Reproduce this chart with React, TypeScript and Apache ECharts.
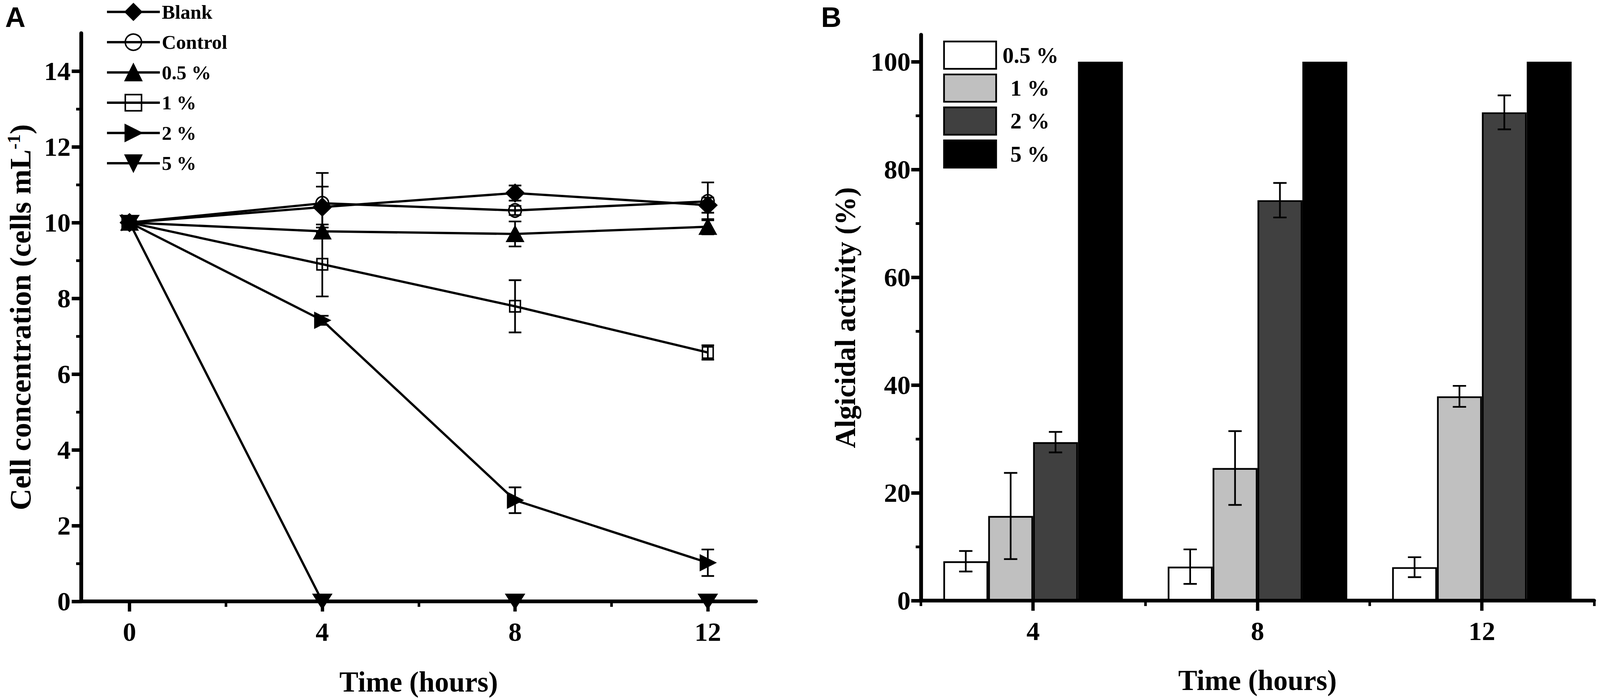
import React, { useEffect, useRef, useState } from "react";
import * as echarts from "echarts";

// ---------- Panel A data ----------
const HOURS = [0, 4, 8, 12];
const BLANK = [10, 10.41, 10.78, 10.46];
const BLANK_ERR = [0, 0.54, 0.2, 0.2];
const CONTROL = [10, 10.51, 10.32, 10.56];
const CONTROL_ERR = [0, 0.8, 0.12, 0.5];
const P05 = [10, 9.77, 9.7, 9.89];
const P05_ERR = [0, 0.18, 0.33, 0.2];
const P1 = [10, 8.9, 7.79, 6.57];
const P1_ERR = [0, 0.85, 0.69, 0.19];
const P2 = [10, 7.42, 2.67, 1.02];
const P2_ERR = [0, 0.12, 0.34, 0.35];
const P5 = [10, 0, 0, 0];
const P5_ERR = [0, 0, 0, 0];
const A_NAMES = ["Blank", "Control", "0.5 %", "1 %", "2 %", "5 %"];
const A_X_MAJOR = [0, 4, 8, 12];
const A_X_MINOR = [2, 6, 10];
const A_Y_MAJOR = [0, 2, 4, 6, 8, 10, 12, 14];
const A_Y_MINOR = [1, 3, 5, 7, 9, 11, 13];

// ---------- Panel B data ----------
const B_CATS = ["4", "8", "12"];
const B_NAMES = ["0.5 %", "1 %", "2 %", "5 %"];
const ACT_05 = [7.3, 6.3, 6.2];
const ERR_05 = [1.9, 3.2, 1.85];
const ACT_1 = [15.7, 24.6, 37.9];
const ERR_1 = [8.0, 6.85, 1.95];
const ACT_2 = [29.4, 74.3, 90.6];
const ERR_2 = [1.9, 3.2, 3.15];
const ACT_5 = [100, 100, 100];
const ERR_5 = [0, 0, 0];
const B_Y_MAJOR = [0, 20, 40, 60, 80, 100];
const B_Y_MINOR = [10, 30, 50, 70, 90];

const SERIF = "Liberation Serif";
const SANS = "Liberation Sans";
const REF_W = 4328;
const REF_H = 1790;

export default function App() {
  const ref = useRef<HTMLDivElement>(null);
  const [size] = useState(() => ({ w: window.innerWidth, h: window.innerHeight }));

  useEffect(() => {
    document.body.style.margin = "0";
    document.body.style.overflow = "hidden";
    if (!ref.current) return;
    const chart = echarts.init(ref.current, undefined, { renderer: "svg" });
    const sx = size.w / REF_W;
    const sy = size.h / REF_H;
    const sf = Math.sqrt(sx * sy);
    const kx = (v: number) => v * sx;
    const ky = (v: number) => v * sy;
    const kf = (v: number) => v * sf;

    const axisLineStyle = { color: "#000", width: kf(10) };
    const tickLabel = { fontFamily: SERIF, fontSize: kf(70), fontWeight: "bold" as const, color: "#000" };
    const titleStyle = { fontFamily: SERIF, fontSize: kf(75), fontWeight: "bold" as const, color: "#000" };

    const lineVals = [BLANK, CONTROL, P05, P1, P2, P5];
    const lineErrs = [BLANK_ERR, CONTROL_ERR, P05_ERR, P1_ERR, P2_ERR, P5_ERR];
    const symbols: any[] = [
      { symbol: "diamond", size: [48, 44], rot: 0, fill: "#000" },
      { symbol: "circle", size: [34, 34], rot: 0, fill: "none" },
      { symbol: "triangle", size: [44, 38], rot: 0, fill: "#000" },
      { symbol: "rect", size: [29, 29], rot: 0, fill: "none" },
      { symbol: "triangle", size: [38, 40], rot: -90, fill: "#000" },
      { symbol: "triangle", size: [48, 36], rot: 180, fill: "#000" },
    ];

    const symSize = (sz: number[], rot: number) =>
      Math.abs(rot) === 90 ? [ky(sz[0]), kx(sz[1])] : [kx(sz[0]), ky(sz[1])];

    const lineSeries = A_NAMES.map((name, i) => ({
      name,
      type: "line",
      xAxisIndex: 0,
      yAxisIndex: 0,
      data: HOURS.map((h, j) => [h, lineVals[i][j]]),
      symbol: symbols[i].symbol,
      symbolSize: symSize(symbols[i].size, symbols[i].rot),
      symbolRotate: symbols[i].rot,
      showAllSymbol: true,
      clip: false,
      z: 5,
      lineStyle: { color: "#000", width: kf(6) },
      itemStyle: { color: symbols[i].fill, borderColor: "#000", borderWidth: kf(4) },
    }));

    const aErrData: number[][] = [];
    A_NAMES.forEach((_, i) => {
      HOURS.forEach((h, j) => {
        if (lineErrs[i][j] > 0) aErrData.push([h, lineVals[i][j], lineErrs[i][j]]);
      });
    });

    const aErrSeries = {
      name: "_errA",
      type: "custom",
      xAxisIndex: 0,
      yAxisIndex: 0,
      z: 4,
      clip: false,
      data: aErrData,
      renderItem: (params: any, api: any) => {
        const x = api.value(0);
        const y = api.value(1);
        const e = api.value(2);
        const p1 = api.coord([x, y + e]);
        const p2 = api.coord([x, y - e]);
        const hw = kx(17);
        const st = { stroke: "#000", lineWidth: kf(4.5) };
        return {
          type: "group",
          children: [
            { type: "line", shape: { x1: p1[0], y1: p1[1], x2: p2[0], y2: p2[1] }, style: st },
            { type: "line", shape: { x1: p1[0] - hw, y1: p1[1], x2: p1[0] + hw, y2: p1[1] }, style: st },
            { type: "line", shape: { x1: p2[0] - hw, y1: p2[1], x2: p2[0] + hw, y2: p2[1] }, style: st },
          ],
        };
      },
    };

    const barVals = [ACT_05, ACT_1, ACT_2, ACT_5];
    const barErrs = [ERR_05, ERR_1, ERR_2, ERR_5];
    const barColors = ["#ffffff", "#c0c0c0", "#404040", "#000000"];

    const barSeries = B_NAMES.map((name, i) => ({
      name: "B " + name,
      type: "bar",
      xAxisIndex: 2,
      yAxisIndex: 2,
      data: barVals[i],
      barGap: "0%",
      barCategoryGap: "20%",
      z: 3,
      itemStyle: { color: barColors[i], borderColor: "#000", borderWidth: kf(4.5) },
    }));

    const bErrData: number[][] = [];
    B_NAMES.forEach((_, i) => {
      B_CATS.forEach((_c, j) => {
        if (barErrs[i][j] > 0) bErrData.push([j, barVals[i][j], barErrs[i][j], i]);
      });
    });

    const bErrSeries = {
      name: "_errB",
      type: "custom",
      xAxisIndex: 2,
      yAxisIndex: 2,
      z: 6,
      data: bErrData,
      renderItem: (params: any, api: any) => {
        const c = api.value(0);
        const v = api.value(1);
        const e = api.value(2);
        const si = api.value(3);
        const band = api.size([1, 0])[0];
        const bw = (band * 0.8) / 4;
        const cx = api.coord([c, v])[0] + (si - 1.5) * bw;
        const yt = api.coord([c, v + e])[1];
        const yb = api.coord([c, v - e])[1];
        const hw = kx(18);
        const st = { stroke: "#000", lineWidth: kf(4.5) };
        return {
          type: "group",
          children: [
            { type: "line", shape: { x1: cx, y1: yt, x2: cx, y2: yb }, style: st },
            { type: "line", shape: { x1: cx - hw, y1: yt, x2: cx + hw, y2: yt }, style: st },
            { type: "line", shape: { x1: cx - hw, y1: yb, x2: cx + hw, y2: yb }, style: st },
          ],
        };
      },
    };

    const bLegendPad = [12, 33, 33, 33];

    const xMajorTick = (vals: number[] | null) => ({
      show: true,
      inside: false,
      length: ky(26),
      lineStyle: { color: "#000", width: kx(9) },
      ...(vals ? { customValues: vals } : {}),
    });
    const xMinorTick = (vals: number[] | null) => ({
      show: true,
      inside: false,
      length: ky(14),
      lineStyle: { color: "#000", width: kx(7) },
      ...(vals ? { customValues: vals } : {}),
    });
    const yMajorTick = (vals: number[]) => ({
      show: true,
      inside: false,
      length: kx(26),
      lineStyle: { color: "#000", width: ky(9) },
      customValues: vals,
    });
    const yMinorTick = (vals: number[]) => ({
      show: true,
      inside: false,
      length: kx(14),
      lineStyle: { color: "#000", width: ky(7) },
      customValues: vals,
    });

    const option: any = {
      animation: false,
      backgroundColor: "#fff",
      grid: [
        { left: kx(220), top: ky(85), width: kx(1825), height: ky(1455) },
        { left: kx(2491), top: ky(89), width: kx(1821), height: ky(1449) },
      ],
      graphic: [
        { type: "text", left: kx(14), top: ky(8), style: { text: "A", font: `bold ${kf(74)}px "${SANS}"`, fill: "#000" } },
        { type: "text", left: kx(2221), top: ky(8), style: { text: "B", font: `bold ${kf(74)}px "${SANS}"`, fill: "#000" } },
      ],
      legend: [
        {
          left: kx(281),
          top: ky(0),
          orient: "vertical",
          itemWidth: kx(143),
          itemHeight: ky(52),
          itemGap: ky(26.5),
          data: A_NAMES,
          selectedMode: false,
          textStyle: { fontFamily: SERIF, fontSize: kf(52), fontWeight: "bold", color: "#000" },
          itemStyle: { borderColor: "#000", borderWidth: kf(4) },
          lineStyle: { color: "#000", width: kf(6) },
        },
        {
          left: kx(2546),
          top: ky(99),
          orient: "vertical",
          itemWidth: kx(141),
          itemHeight: ky(70),
          itemGap: ky(10),
          icon: "rect",
          selectedMode: false,
          data: B_NAMES.map((n, i) => ({ name: "B " + n, textStyle: { padding: [0, 0, 0, kx(bLegendPad[i])] } })),
          formatter: (n: string) => n.slice(2),
          textStyle: { fontFamily: SERIF, fontSize: kf(59), fontWeight: "bold", color: "#000" },
          itemStyle: { borderColor: "#000", borderWidth: kf(4.5) },
        },
      ],
      xAxis: [
        {
          type: "value",
          gridIndex: 0,
          min: -1,
          max: 13,
          position: "bottom",
          name: "Time (hours)",
          nameLocation: "middle",
          nameGap: ky(170),
          nameTextStyle: titleStyle,
          axisLine: { show: true, onZero: false, lineStyle: axisLineStyle },
          axisTick: xMajorTick(A_X_MAJOR),
          axisLabel: { show: true, margin: ky(44), ...tickLabel, customValues: A_X_MAJOR },
          splitLine: { show: false },
        },
        {
          type: "value",
          gridIndex: 0,
          min: -1,
          max: 13,
          position: "bottom",
          axisLine: { show: false, onZero: false },
          axisTick: xMinorTick(A_X_MINOR),
          axisLabel: { show: false },
          splitLine: { show: false },
        },
        {
          type: "category",
          gridIndex: 1,
          data: B_CATS,
          position: "bottom",
          name: "Time (hours)",
          nameLocation: "middle",
          nameGap: ky(168),
          nameTextStyle: titleStyle,
          axisLine: { show: true, onZero: false, lineStyle: axisLineStyle },
          axisTick: { ...xMajorTick(null), alignWithLabel: true },
          axisLabel: { show: true, margin: ky(44), ...tickLabel },
          splitLine: { show: false },
        },
        {
          type: "category",
          gridIndex: 1,
          data: B_CATS,
          position: "bottom",
          axisLine: { show: false, onZero: false },
          axisTick: xMinorTick(null),
          axisLabel: { show: false },
          splitLine: { show: false },
        },
      ],
      yAxis: [
        {
          type: "value",
          gridIndex: 0,
          min: 0,
          max: 15,
          position: "left",
          name: "{t|Cell concentration (cells mL}{s|-1}{t|)}",
          nameLocation: "middle",
          nameRotate: 90,
          nameGap: kx(121),
          nameTextStyle: {
            ...titleStyle,
            rich: {
              t: { fontFamily: SERIF, fontSize: kf(79), fontWeight: "bold", color: "#000", lineHeight: kf(85) },
              s: { fontFamily: SERIF, fontSize: kf(48), fontWeight: "bold", color: "#000", verticalAlign: "top", lineHeight: kf(48) },
            },
          },
          axisLine: { show: true, onZero: false, lineStyle: axisLineStyle },
          axisTick: yMajorTick(A_Y_MAJOR),
          axisLabel: { show: true, margin: kx(29), ...tickLabel, customValues: A_Y_MAJOR },
          splitLine: { show: false },
        },
        {
          type: "value",
          gridIndex: 0,
          min: 0,
          max: 15,
          position: "left",
          offset: 0,
          axisLine: { show: false, onZero: false },
          axisTick: yMinorTick(A_Y_MINOR),
          axisLabel: { show: false },
          splitLine: { show: false },
        },
        {
          type: "value",
          gridIndex: 1,
          min: 0,
          max: 105,
          position: "left",
          name: "Algicidal activity (%)",
          nameLocation: "middle",
          nameRotate: 90,
          nameGap: kx(165),
          nameTextStyle: titleStyle,
          axisLine: { show: true, onZero: false, lineStyle: axisLineStyle },
          axisTick: yMajorTick(B_Y_MAJOR),
          axisLabel: { show: true, margin: kx(28), ...tickLabel, customValues: B_Y_MAJOR },
          splitLine: { show: false },
        },
        {
          type: "value",
          gridIndex: 1,
          min: 0,
          max: 105,
          position: "left",
          offset: 0,
          axisLine: { show: false, onZero: false },
          axisTick: yMinorTick(B_Y_MINOR),
          axisLabel: { show: false },
          splitLine: { show: false },
        },
      ],
      series: [...lineSeries, aErrSeries, ...barSeries, bErrSeries],
    };

    chart.setOption(option);
    return () => {
      chart.dispose();
    };
  }, [size]);

  return <div ref={ref} style={{ width: size.w, height: size.h, background: "#fff" }} />;
}
